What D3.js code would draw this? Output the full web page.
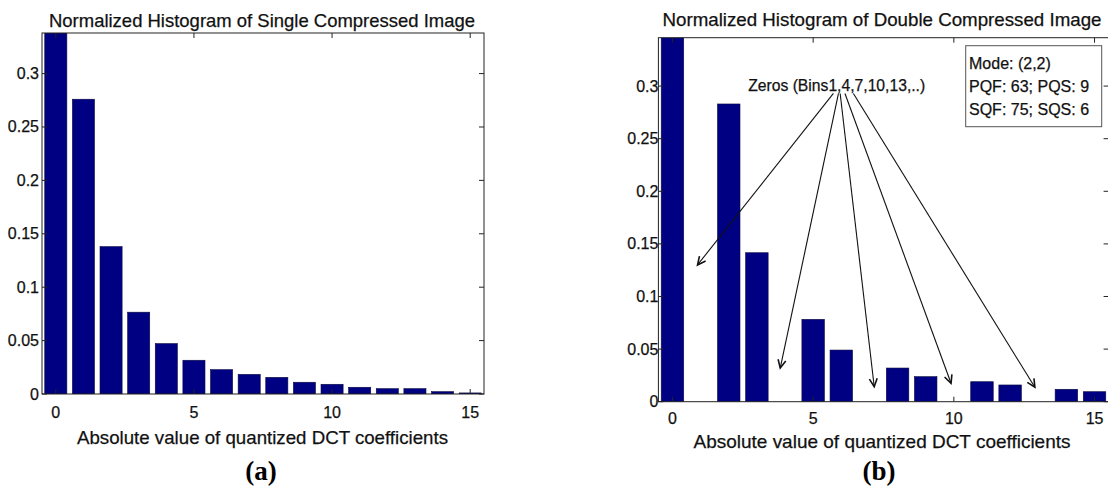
<!DOCTYPE html>
<html><head><meta charset="utf-8">
<script src="https://cdn.jsdelivr.net/npm/d3@7"></script>
<style>
html,body{margin:0;padding:0;background:#fff;}
svg{display:block;}
text{font-family:"Liberation Sans",Arial,Helvetica,sans-serif;fill:#111;stroke:#111;stroke-width:0.25px;}
</style></head>
<body>
<script>
// ---- data ----
const bins = d3.range(0, 16);
const singleValues = [0.338, 0.276, 0.138, 0.0766, 0.0472, 0.0316, 0.0228, 0.0184, 0.0156, 0.011, 0.0091, 0.0063, 0.005, 0.005, 0.0022, 0.001];
const doubleValues = [0.346, 0, 0.283, 0.1416, 0, 0.0783, 0.0491, 0, 0.032, 0.0238, 0, 0.019, 0.0159, 0, 0.0118, 0.0095];
const xTicks = [0, 5, 10, 15];
const yTicks = [0, 0.05, 0.1, 0.15, 0.2, 0.25, 0.3];
const titleA = "Normalized Histogram of Single Compressed Image";
const titleB = "Normalized Histogram of Double Compressed Image";
const xLabel = "Absolute value of quantized DCT coefficients";
const captions = ["(a)", "(b)"];
const annotationText = "Zeros (Bins1,4,7,10,13,..)";
const arrowStartX = [5.72, 5.9, 5.96, 6.13, 6.43];
const arrowStartY = [0.293, 0.293, 0.293, 0.293, 0.293];
const arrowEndX = [0.89, 3.83, 7.17, 9.9, 12.88];
const arrowEndY = [0.13, 0.032, 0.0142, 0.0175, 0.0137];
const infoLines = ["Mode: (2,2)", "PQF: 63; PQS: 9", "SQF: 75; SQS: 6"];

const W = 1108, H = 495;
const svg = d3.select("body").append("svg").attr("width", W).attr("height", H);
svg.append("rect").attr("width", W).attr("height", H).attr("fill", "#fff");

const barColor = "#000083";

function panel(cfg) {
  const x = d3.scaleLinear().domain([-0.5, 15.5]).range([cfg.left, cfg.right]);
  const y = d3.scaleLinear().domain([0, d3.max(cfg.values)]).range([cfg.bottom, cfg.top]);
  const g = svg.append("g");
  const clipId = "clip" + cfg.id;
  g.append("clipPath").attr("id", clipId).append("rect")
    .attr("x", cfg.left).attr("y", cfg.top).attr("width", cfg.right - cfg.left).attr("height", cfg.bottom - cfg.top);
  const bw = 0.8 * (x(1) - x(0));
  g.append("g").attr("clip-path", `url(#${clipId})`).selectAll("rect").data(bins.map((b, i) => ({b, v: cfg.values[i]})).filter(d => d.v > 0))
    .join("rect")
    .attr("x", d => x(d.b) - bw / 2).attr("width", bw)
    .attr("y", d => y(d.v)).attr("height", d => y(0) - y(d.v))
    .attr("fill", barColor).attr("stroke", "#0a0a40").attr("stroke-width", 0.6);

  const axisStroke = "#222";
  g.append("rect").attr("x", cfg.left).attr("y", cfg.top).attr("width", cfg.right - cfg.left).attr("height", cfg.bottom - cfg.top)
    .attr("fill", "none").attr("stroke", axisStroke).attr("stroke-width", 1);

  const tl = 5;
  xTicks.forEach(t => {
    g.append("line").attr("x1", x(t)).attr("x2", x(t)).attr("y1", cfg.bottom).attr("y2", cfg.bottom - tl).attr("stroke", axisStroke);
    g.append("line").attr("x1", x(t)).attr("x2", x(t)).attr("y1", cfg.top).attr("y2", cfg.top + tl).attr("stroke", axisStroke);
  });
  yTicks.forEach(t => {
    g.append("line").attr("x1", cfg.left).attr("x2", cfg.left + tl).attr("y1", y(t)).attr("y2", y(t)).attr("stroke", axisStroke);
    g.append("line").attr("x1", cfg.right).attr("x2", cfg.right - tl).attr("y1", y(t)).attr("y2", y(t)).attr("stroke", axisStroke);
  });

  g.append("g").selectAll("text").data(xTicks).join("text")
    .attr("x", d => x(d)).attr("y", cfg.xTickY).attr("text-anchor", "middle").attr("font-size", 16).text(d => d);
  g.append("g").selectAll("text").data(yTicks).join("text")
    .attr("x", cfg.left - cfg.labelGap).attr("y", d => y(d) + 5.5).attr("text-anchor", "end").attr("font-size", 16)
    .text(d => d3.format("~g")(d));

  g.append("text").attr("x", cfg.titleCx).attr("y", cfg.titleY).attr("text-anchor", "middle").attr("font-size", 18.5)
    .attr("textLength", cfg.titleW).attr("lengthAdjust", "spacingAndGlyphs").text(cfg.title);
  g.append("text").attr("x", cfg.xlabCx).attr("y", cfg.xlabY).attr("text-anchor", "middle").attr("font-size", 19)
    .attr("textLength", cfg.xlabW).attr("lengthAdjust", "spacingAndGlyphs").text(xLabel);
  g.append("text").attr("x", cfg.capCx).attr("y", 480).attr("text-anchor", "middle")
    .style("font-family", "'Liberation Serif','Times New Roman',serif").style("font-weight", "bold").attr("font-size", 27)
    .style("fill", "#000").style("stroke", "none")
    .text(cfg.caption);
  return {x, y, g};
}

const A = panel({id: "a", values: singleValues, left: 42, right: 484, top: 33, bottom: 394, labelGap: 3,
  xTickY: 417.5, title: titleA, titleCx: 262, titleY: 26.5, titleW: 426,
  xlabCx: 262.5, xlabY: 443.5, xlabW: 371, capCx: 261, caption: captions[0]});
const B = panel({id: "b", values: doubleValues, left: 658.4, right: 1108.6, top: 37.7, bottom: 401.7, labelGap: 0,
  xTickY: 424, title: titleB, titleCx: 882, titleY: 25.5, titleW: 439,
  xlabCx: 882, xlabY: 448, xlabW: 377, capCx: 879, caption: captions[1]});

// annotation arrows
const ag = svg.append("g");
arrowEndX.forEach((ex, i) => {
  const x1 = B.x(arrowStartX[i]), y1 = B.y(arrowStartY[i]);
  const x2 = B.x(ex), y2 = B.y(arrowEndY[i]);
  ag.append("line").attr("x1", x1).attr("y1", y1).attr("x2", x2).attr("y2", y2).attr("stroke", "#111").attr("stroke-width", 1.1);
  const ang = Math.atan2(y2 - y1, x2 - x1);
  const L = 9, spread = 0.45;
  const p1 = [x2 - L * Math.cos(ang - spread), y2 - L * Math.sin(ang - spread)];
  const p2 = [x2 - L * Math.cos(ang + spread), y2 - L * Math.sin(ang + spread)];
  ag.append("path").attr("d", `M${p1[0]},${p1[1]}L${x2},${y2}L${p2[0]},${p2[1]}`)
    .attr("fill", "none").attr("stroke", "#111").attr("stroke-width", 1.6);
});
svg.append("text").attr("x", 836.7).attr("y", 90.5).attr("text-anchor", "middle").attr("font-size", 16)
  .attr("textLength", 177).attr("lengthAdjust", "spacingAndGlyphs").text(annotationText);

// info box
const ib = svg.append("g");
ib.append("rect").attr("x", 965.7).attr("y", 45.7).attr("width", 136).attr("height", 81)
  .attr("fill", "#fff").attr("stroke", "#555").attr("stroke-width", 1);
ib.selectAll("text").data(infoLines).join("text")
  .attr("x", 969).attr("y", (d, i) => 69 + i * 23.2).attr("font-size", 16).text(d => d);
</script>
</body></html>
